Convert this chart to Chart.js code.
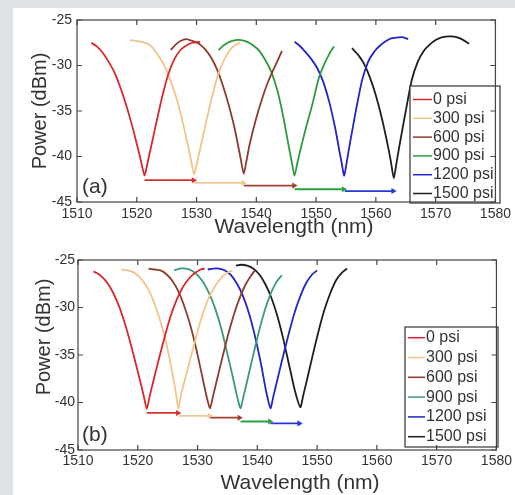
<!DOCTYPE html>
<html>
<head>
<meta charset="utf-8">
<script src="https://cdn.jsdelivr.net/npm/chart.js@4.4.1/dist/chart.umd.min.js"></script>
<style>
  html, body { margin: 0; padding: 0; }
  body { width: 515px; height: 495px; background: #dfe3e6; position: relative; overflow: hidden; }
  #sheet { position: absolute; left: 13px; top: 8px; right: 0; bottom: 0; background: #fff; }
  .panel { position: absolute; left: 0; width: 515px; }
  #panelA { top: 0; height: 240px; }
  #panelB { top: 240px; height: 255px; }
</style>
</head>
<body>
<div id="sheet"></div>
<div class="panel" id="panelA"><canvas id="chartA"></canvas></div>
<div class="panel" id="panelB"><canvas id="chartB"></canvas></div>
<script>
// pressure steps and axis ticks
const pressures = ['0 psi', '300 psi', '600 psi', '900 psi', '1200 psi', '1500 psi'];
const xTicks = [1510, 1520, 1530, 1540, 1550, 1560, 1570, 1580];
const yTicks = [-45, -40, -35, -30, -25];

// (a) spectra, [wavelength nm, power dBm]
const a0 = [[1512.4,-27.5],[1513.3,-27.9],[1514.3,-28.6],[1515.3,-29.6],[1516.3,-30.8],[1517.3,-32.5],[1518.3,-34.5],[1519.3,-36.8],[1520.3,-39.4],[1520.8,-40.8],[1521.3,-42.1],[1521.8,-40.7],[1522.3,-39.2],[1523.3,-36.2],[1524.3,-33.3],[1525.3,-30.9],[1526.3,-29.3],[1527.3,-28.3],[1528.3,-27.8],[1529.3,-27.5],[1530.6,-27.4]];
const a300 = [[1518.8,-27.2],[1519.8,-27.3],[1520.8,-27.4],[1521.8,-27.6],[1522.6,-28.0],[1523.6,-28.9],[1524.6,-30.0],[1525.6,-31.6],[1526.6,-33.5],[1527.6,-36.0],[1528.6,-38.9],[1529.1,-40.5],[1529.6,-42.0],[1530.1,-40.6],[1530.6,-39.2],[1531.6,-36.2],[1532.6,-33.4],[1533.6,-31.0],[1534.6,-29.4],[1535.6,-28.3],[1536.6,-27.7],[1537.3,-27.5]];
const a600 = [[1525.7,-28.3],[1526.5,-27.7],[1527.3,-27.3],[1528.3,-27.1],[1529.3,-27.3],[1530.4,-27.6],[1531.4,-28.2],[1532.4,-29.1],[1533.4,-30.4],[1534.4,-32.2],[1535.4,-34.4],[1536.4,-37.0],[1537.4,-40.3],[1537.9,-41.9],[1538.4,-40.3],[1538.9,-38.6],[1539.9,-36.0],[1540.9,-33.8],[1541.9,-31.9],[1542.9,-30.4],[1543.6,-29.4],[1544.3,-28.4]];
const a900 = [[1533.7,-28.3],[1534.5,-27.8],[1535.5,-27.4],[1536.5,-27.2],[1537.5,-27.2],[1538.5,-27.4],[1539.5,-27.8],[1540.5,-28.4],[1541.5,-29.4],[1542.5,-30.7],[1543.5,-32.7],[1544.5,-35.6],[1545.4,-38.8],[1545.9,-40.5],[1546.4,-42.1],[1546.9,-40.6],[1547.4,-39.2],[1548.4,-36.6],[1549.4,-34.2],[1550.4,-31.5],[1551.4,-29.8],[1552.4,-28.5],[1553.0,-27.9]];
const a1200 = [[1546.4,-27.4],[1547.2,-27.8],[1548.2,-28.5],[1549.2,-29.3],[1550.2,-30.3],[1551.2,-31.8],[1552.2,-34.0],[1553.2,-36.9],[1553.9,-39.4],[1554.3,-40.8],[1554.7,-42.1],[1555.2,-40.3],[1555.7,-38.4],[1556.7,-34.8],[1557.7,-31.6],[1558.7,-29.6],[1559.7,-28.5],[1560.7,-27.8],[1561.7,-27.3],[1562.7,-27.0],[1563.8,-26.9],[1564.6,-26.9],[1565.4,-27.1]];
const a1500 = [[1556.0,-28.1],[1557.0,-28.8],[1558.0,-29.8],[1559.0,-31.3],[1560.0,-33.3],[1561.0,-35.8],[1562.0,-38.8],[1562.5,-40.5],[1563.0,-42.4],[1563.5,-40.5],[1564.0,-38.6],[1565.0,-35.0],[1566.0,-31.6],[1567.0,-29.6],[1568.0,-28.4],[1569.0,-27.7],[1570.0,-27.2],[1571.0,-26.9],[1572.6,-26.8],[1574.0,-27.0],[1575.6,-27.6]];

// (b) spectra
const b0 = [[1512.6,-26.2],[1513.5,-26.5],[1514.5,-27.1],[1515.5,-28.0],[1516.5,-29.3],[1517.5,-31.0],[1518.5,-33.1],[1519.5,-35.5],[1520.5,-38.0],[1521.0,-39.3],[1521.5,-40.7],[1522.0,-39.3],[1522.5,-38.0],[1523.5,-35.5],[1524.5,-33.1],[1525.5,-30.9],[1526.5,-29.2],[1527.5,-27.9],[1528.5,-27.0],[1529.5,-26.4],[1530.5,-26.0],[1531.2,-25.9]];
const b300 = [[1517.2,-26.0],[1518.3,-26.1],[1519.3,-26.3],[1520.3,-26.8],[1521.3,-27.6],[1522.3,-28.8],[1523.3,-30.5],[1524.3,-32.6],[1525.3,-35.3],[1526.3,-38.7],[1526.8,-40.6],[1527.3,-39.0],[1527.8,-37.8],[1528.8,-35.4],[1529.8,-33.0],[1530.8,-30.8],[1531.8,-29.1],[1532.8,-27.9],[1533.8,-27.0],[1534.8,-26.4],[1535.8,-26.1]];
const b600 = [[1521.8,-25.9],[1522.8,-26.0],[1523.8,-26.1],[1524.8,-26.5],[1525.8,-27.2],[1526.8,-28.3],[1527.8,-29.9],[1528.8,-31.9],[1529.8,-34.4],[1530.8,-37.3],[1531.6,-39.6],[1532.1,-40.6],[1532.6,-39.3],[1533.1,-38.0],[1534.1,-35.4],[1535.1,-32.9],[1536.1,-30.7],[1537.1,-28.9],[1538.1,-27.5],[1539.0,-26.6],[1539.6,-26.1]];
const b900 = [[1526.1,-26.1],[1527.0,-25.9],[1528.0,-25.9],[1529.0,-26.1],[1530.0,-26.6],[1531.0,-27.4],[1532.0,-28.6],[1533.0,-30.2],[1534.0,-32.3],[1535.0,-34.9],[1536.0,-37.6],[1536.7,-39.6],[1537.2,-40.6],[1537.7,-39.3],[1538.2,-38.0],[1539.2,-35.3],[1540.2,-32.7],[1541.2,-30.4],[1542.2,-28.6],[1543.2,-27.3],[1544.1,-26.6]];
const b1200 = [[1531.7,-26.0],[1532.6,-25.9],[1533.6,-25.9],[1534.6,-26.1],[1535.6,-26.6],[1536.6,-27.5],[1537.6,-28.8],[1538.6,-30.6],[1539.6,-33.0],[1540.6,-35.9],[1541.5,-38.9],[1542.2,-40.6],[1542.7,-39.3],[1543.2,-38.0],[1544.2,-35.4],[1545.2,-32.9],[1546.2,-30.6],[1547.2,-28.8],[1548.2,-27.4],[1549.2,-26.5],[1550.0,-26.1]];
const b1500 = [[1536.4,-25.6],[1537.3,-25.5],[1538.3,-25.6],[1539.3,-25.9],[1540.3,-26.5],[1541.3,-27.5],[1542.3,-28.9],[1543.3,-30.8],[1544.3,-33.2],[1545.3,-36.0],[1546.3,-38.8],[1547.2,-40.5],[1547.7,-39.2],[1548.2,-37.9],[1549.2,-35.2],[1550.2,-32.6],[1551.2,-30.3],[1552.2,-28.5],[1553.2,-27.1],[1554.2,-26.3],[1555.0,-25.9]];

// dip shift arrows: from dip, to next dip, at power level
const arrowFromA = [1521.3, 1529.6, 1537.9, 1546.4, 1554.8];
const arrowToA = [1529.5, 1537.8, 1546.3, 1554.6, 1562.9];
const arrowLevelA = [-42.6, -42.9, -43.2, -43.6, -43.8];
const arrowFromB = [1521.5, 1526.8, 1532.1, 1537.2, 1542.2];
const arrowToB = [1526.7, 1532.0, 1537.0, 1542.1, 1547.0];
const arrowLevelB = [-41.1, -41.4, -41.6, -42.0, -42.2];

const FONT = '"Liberation Sans", Arial, sans-serif';
const TEXT = '#333';

function curveSets(curves, colors) {
  return curves.map((c, i) => ({
    label: pressures[i],
    data: c.map(p => ({x: p[0], y: p[1]})),
    borderColor: colors[i],
    borderWidth: 1.8,
    pointRadius: 0,
    tension: 0.2,
    order: 2
  }));
}

function arrowSets(from, to, level, colors) {
  return from.map((f, i) => ({
    label: '',
    arrow: true,
    data: [{x: f, y: level[i]}, {x: to[i], y: level[i]}],
    borderColor: colors[i],
    backgroundColor: colors[i],
    borderWidth: 1.8,
    pointRadius: [0, 3.5],
    pointStyle: 'triangle',
    rotation: 90,
    pointBorderWidth: 0,
    order: 1
  }));
}

// frame with inward ticks, legend box, panel tag and axis titles
const decor = {
  id: 'decor',
  afterDatasetsDraw(chart, args, o) {
    const {ctx, chartArea: a, scales: {x, y}} = chart;
    ctx.save();

    // legend
    const L = o.legend;
    ctx.fillStyle = '#fff';
    ctx.fillRect(L.x, L.y, L.w, L.h);
    ctx.strokeStyle = '#333';
    ctx.lineWidth = 1.2;
    ctx.strokeRect(L.x, L.y, L.w, L.h);
    ctx.font = L.size + 'px ' + FONT;
    ctx.textBaseline = 'middle';
    ctx.textAlign = 'left';
    chart.data.datasets.filter(d => !d.arrow).forEach((d, i) => {
      const yy = L.first + i * L.step;
      ctx.strokeStyle = d.borderColor;
      ctx.lineWidth = 1.5;
      ctx.beginPath();
      ctx.moveTo(L.lineX0, yy);
      ctx.lineTo(L.lineX1, yy);
      ctx.stroke();
      ctx.fillStyle = TEXT;
      ctx.fillText(d.label, L.textX, yy);
    });

    // frame + ticks
    ctx.strokeStyle = '#444';
    ctx.lineWidth = 1.2;
    ctx.strokeRect(a.left, a.top, a.right - a.left, a.bottom - a.top);
    ctx.beginPath();
    xTicks.forEach(v => {
      const px = x.getPixelForValue(v);
      ctx.moveTo(px, a.bottom); ctx.lineTo(px, a.bottom - 5);
      ctx.moveTo(px, a.top); ctx.lineTo(px, a.top + 5);
    });
    yTicks.forEach(v => {
      const py = y.getPixelForValue(v);
      ctx.moveTo(a.left, py); ctx.lineTo(a.left + 5, py);
      ctx.moveTo(a.right, py); ctx.lineTo(a.right - 5, py);
    });
    ctx.stroke();

    // panel tag
    ctx.fillStyle = TEXT;
    ctx.font = '21px ' + FONT;
    ctx.fillText(o.tag.text, o.tag.x, o.tag.y);

    // axis titles
    ctx.textAlign = 'center';
    ctx.font = o.xTitle.size + 'px ' + FONT;
    ctx.fillText('Wavelength (nm)', o.xTitle.x, o.xTitle.y);
    ctx.translate(o.yTitle.x, o.yTitle.y);
    ctx.rotate(-Math.PI / 2);
    ctx.font = o.yTitle.size + 'px ' + FONT;
    ctx.fillText('Power (dBm)', 0, 0);
    ctx.restore();
  }
};

function makeChart(id, P) {
  return new Chart(document.getElementById(id), {
    type: 'line',
    data: {
      datasets: curveSets(P.curves, P.colors).concat(arrowSets(P.from, P.to, P.level, P.arrowColors))
    },
    plugins: [decor],
    options: {
      responsive: true,
      maintainAspectRatio: false,
      animation: false,
      layout: { padding: { top: 20, right: P.padRight, left: 0, bottom: 0 } },
      plugins: {
        legend: { display: false },
        tooltip: { enabled: false },
        decor: P.decor
      },
      scales: {
        x: {
          type: 'linear', min: 1510, max: 1580,
          afterBuildTicks: s => { s.ticks = xTicks.map(v => ({value: v})); },
          afterFit: s => { s.height = P.xAxisH; },
          grid: { display: false, drawTicks: false },
          border: { display: false },
          ticks: { font: { family: FONT, size: 14 }, color: TEXT, padding: P.xPad, maxRotation: 0, autoSkip: false, callback: v => String(v) }
        },
        y: {
          type: 'linear', min: -45, max: -25,
          afterBuildTicks: s => { s.ticks = yTicks.map(v => ({value: v})); },
          afterFit: s => { s.width = P.yAxisW; },
          grid: { display: false, drawTicks: false },
          border: { display: false },
          ticks: { font: { family: FONT, size: 14 }, color: TEXT, padding: P.yPad, callback: v => String(v) }
        }
      }
    }
  });
}

makeChart('chartA', {
  curves: [a0, a300, a600, a900, a1200, a1500],
  colors: ['#d8282c', '#f2c48c', '#8e3b2e', '#2e9a3e', '#2424c8', '#1e1e1e'],
  from: arrowFromA, to: arrowToA, level: arrowLevelA,
  arrowColors: ['#d83030', '#f0c898', '#a04030', '#2ea040', '#2838d8'],
  padRight: 15, xAxisH: 38, yAxisW: 77, xPad: 4, yPad: 5,
  decor: {
    legend: { x: 410, y: 86, w: 90, h: 117, first: 99.5, step: 18.8, lineX0: 413, lineX1: 432, textX: 433, size: 16 },
    tag: { text: '(a)', x: 82, y: 187 },
    xTitle: { x: 294, y: 227, size: 21 },
    yTitle: { x: 40, y: 111, size: 20 }
  }
});

makeChart('chartB', {
  curves: [b0, b300, b600, b900, b1200, b1500],
  colors: ['#d8282c', '#f2c48c', '#8e3b2e', '#3a9a78', '#2424c8', '#1e1e1e'],
  from: arrowFromB, to: arrowToB, level: arrowLevelB,
  arrowColors: ['#d83030', '#f0c898', '#a04030', '#2ea040', '#2838d8'],
  padRight: 16, xAxisH: 45, yAxisW: 78, xPad: 3, yPad: 3,
  decor: {
    legend: { x: 405, y: 87, w: 93, h: 120, first: 97.7, step: 19.8, lineX0: 408, lineX1: 425, textX: 426, size: 16 },
    tag: { text: '(b)', x: 82, y: 195 },
    xTitle: { x: 300, y: 243, size: 21 },
    yTitle: { x: 44, y: 97, size: 20 }
  }
});
</script>
</body>
</html>
